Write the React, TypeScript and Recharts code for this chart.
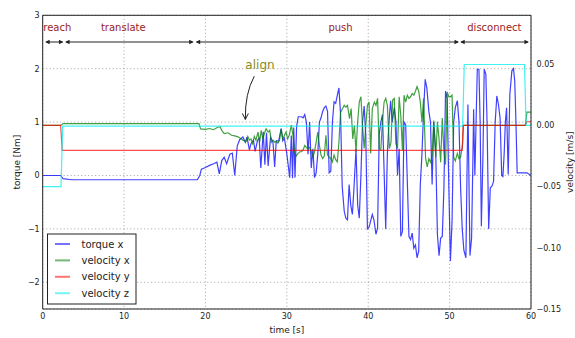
import React from 'react';
import {
  ComposedChart,
  Line,
  XAxis,
  YAxis,
  CartesianGrid,
  ReferenceLine,
  ReferenceDot,
  Customized,
} from 'recharts';

// ---------- data (time [s], value) ----------
const torqueX: [number, number][] = [
  [0, 0], [2.2, 0], [2.5, -0.06], [3.5, -0.08], [19.0, -0.08], [19.3, 0.0], [19.5, 0.12], [20.0, 0.15],
  [20.5, 0.19], [21.0, 0.22], [21.4, 0.25], [21.7, 0.03], [22.0, 0.28], [22.3, 0.34], [22.6, 0.22],
  [23.0, 0.4], [23.3, 0.42], [23.6, 0.0], [23.9, 0.55], [24.2, 0.67], [24.6, 0.72], [24.9, 0.62],
  [25.1, 0.72], [25.4, 0.48], [25.6, 0.6], [25.9, 0.66], [26.1, 0.45], [26.4, 0.66], [26.6, 0.7],
  [26.8, 0.14], [27.1, 0.82], [27.3, 0.2], [27.5, 0.8], [27.7, 0.18], [28.0, 0.72], [28.3, 0.62],
  [28.5, 0.16], [28.7, 0.65], [29.0, 0.65], [29.3, 0.88], [29.5, 0.65], [29.7, 0.7], [30.0, 0.4],
  [30.2, 0.15], [30.35, -0.04], [30.55, 0.75], [30.7, -0.05], [30.85, 0.9], [31.0, -0.04], [31.2, 0.92],
  [31.4, 1.1], [31.8, 1.1], [32.0, 1.08], [32.2, 1.14], [32.4, 1.0], [32.6, 0.4], [32.8, 1.0],
  [33.0, 0.14], [33.2, 0.5], [33.4, -0.04], [33.6, 0.05], [33.8, 0.4], [34.0, 1.0], [34.2, 1.08],
  [34.4, 1.2], [34.6, 1.27], [34.8, 1.3], [35.0, 1.2], [35.2, 0.05], [35.4, 0.08], [35.6, 1.0],
  [35.8, 1.38], [36.0, 1.35], [36.2, 1.5], [36.4, 1.64], [36.6, 1.15], [36.8, -0.2], [37.05, -0.67],
  [37.25, -0.8], [37.45, -0.83], [37.65, -0.17], [37.85, -0.55], [38.05, -0.73], [38.25, -0.23],
  [38.5, 0.5], [38.7, -0.55], [38.9, -0.8], [39.1, 0.0], [39.3, 1.0], [39.5, 1.3], [39.7, 0.75],
  [39.9, -1.0], [40.1, -0.97], [40.3, -0.85], [40.5, -0.73], [40.7, -0.83], [40.95, -1.1], [41.15, -0.98],
  [41.35, 0.77], [41.55, 1.0], [41.75, 1.14], [41.95, 0.08], [42.15, -1.0], [42.35, 0.4], [42.55, 1.0],
  [42.75, 1.4], [42.95, 1.0], [43.2, 1.27], [43.4, 1.0], [43.6, 0.0], [43.8, 0.5], [44.0, -1.14],
  [44.2, -1.05], [44.4, 1.0], [44.6, 0.95], [44.8, -0.1], [45.0, -1.14], [45.2, -1.2], [45.4, -1.08],
  [45.6, -1.36], [45.8, -1.3], [46.0, -1.54], [46.2, -1.42], [46.4, -0.17], [46.6, 0.4], [46.8, 1.2],
  [47.0, 1.8], [47.2, 1.64], [47.45, 1.2], [47.65, 1.0], [47.85, -0.17], [48.05, 1.0], [48.3, 0.4],
  [48.5, -1.1], [48.7, -1.5], [48.9, -1.17], [49.1, -1.14], [49.3, -0.23], [49.5, 1.58], [49.7, 1.45],
  [49.9, -0.2], [50.1, -1.6], [50.3, -0.85], [50.5, 1.0], [50.7, 1.27], [50.95, 1.4], [51.15, 1.0],
  [51.35, -0.23], [51.55, -1.0], [51.75, -1.4], [52.0, -1.54], [52.25, 1.33], [52.5, -1.5], [52.7, -1.17],
  [52.85, 0.2], [52.95, 1.24], [53.1, 0.0], [53.25, 1.0], [53.4, 1.99], [53.6, 1.99], [53.75, 1.0],
  [53.9, -0.95], [54.1, 0.4], [54.25, 1.99], [54.45, 1.9], [54.6, 1.0], [54.8, -1.0], [55.0, -0.23],
  [55.2, -0.2], [55.4, -0.11], [55.6, 1.0], [55.8, 1.49], [56.0, 1.33], [56.2, 1.08], [56.4, 0.0],
  [56.55, -0.02], [56.7, 0.4], [56.85, 1.0], [57.0, 1.27], [57.2, 0.02], [57.4, 1.52], [57.65, 1.96],
  [57.85, 2.0], [58.0, 1.77], [58.15, 1.0], [58.3, 0.05], [59.5, 0.05], [59.9, 0.01], [60, 0.0],
];

const velocityX: [number, number][] = [
  [0, 0.0], [2.2, 0.0], [2.5, 0.0015], [19.2, 0.0015], [19.4, -0.0028], [20.0, -0.0032], [20.5, -0.0025],
  [21.0, -0.0035], [21.5, -0.0015], [21.8, -0.001], [22.0, -0.004], [22.3, -0.0067], [22.8, -0.006],
  [23.2, -0.008], [23.6, -0.0085], [24.0, -0.0093], [24.4, -0.011], [24.7, -0.0124], [25.0, -0.013],
  [25.2, -0.009], [25.4, -0.012], [25.6, -0.011], [25.8, -0.015], [26.0, -0.009], [26.2, -0.012],
  [26.45, -0.0054], [26.65, -0.0137], [26.85, -0.0041], [27.05, -0.011], [27.3, -0.0054], [27.45, -0.0028],
  [27.7, -0.0054], [27.9, -0.004], [28.1, -0.0137], [28.3, -0.012], [28.5, -0.0137], [28.7, -0.013],
  [28.9, -0.0145], [29.1, -0.012], [29.3, -0.0028], [29.5, -0.011], [29.7, -0.008], [29.9, -0.0054],
  [30.1, -0.011], [30.3, -0.008], [30.55, 0.0003], [30.75, -0.008], [30.95, -0.0215], [31.15, -0.025],
  [31.35, -0.023], [31.6, -0.0215], [31.8, -0.0215], [32.0, -0.02], [32.2, -0.0163], [32.4, -0.018],
  [32.6, -0.019], [32.8, -0.018], [33.0, -0.0215], [33.2, -0.0255], [33.4, -0.0215], [33.6, -0.0137],
  [33.8, -0.0054], [34.0, -0.0163], [34.2, -0.0242], [34.4, -0.027], [34.6, -0.025], [34.8, -0.008],
  [35.0, -0.0242], [35.2, -0.0259], [35.4, -0.027], [35.6, -0.0298], [35.8, -0.0242], [36.0, -0.028],
  [36.2, -0.0298], [36.4, -0.0137], [36.6, 0.0108], [36.85, 0.0138], [37.05, 0.0164], [37.25, 0.015],
  [37.45, 0.0164], [37.7, 0.0055], [37.9, 0.0138], [38.1, -0.011], [38.3, 0.0], [38.5, -0.0215],
  [38.7, 0.003], [38.9, 0.0191], [39.1, 0.0234], [39.3, 0.0], [39.5, -0.0189], [39.7, 0.0], [39.9, 0.0164],
  [40.1, 0.0191], [40.3, -0.0229], [40.5, 0.0138], [40.75, 0.0191], [40.95, 0.0164], [41.15, 0.0221],
  [41.35, -0.0189], [41.55, -0.02], [41.75, 0.004], [41.95, 0.0191], [42.15, 0.0221], [42.35, 0.0164],
  [42.6, -0.0189], [42.8, -0.0137], [43.0, 0.0208], [43.2, 0.0221], [43.4, -0.015], [43.6, -0.0189],
  [43.8, 0.0234], [44.0, 0.008], [44.2, -0.02], [44.4, 0.0247], [44.6, 0.0191], [44.8, 0.0247],
  [45.0, 0.0221], [45.2, 0.0234], [45.4, 0.026], [45.6, 0.0247], [45.8, 0.028], [46.0, 0.0317],
  [46.2, 0.028], [46.4, 0.0191], [46.6, 0.0029], [46.8, 0.0221], [47.05, -0.0272], [47.25, -0.0338],
  [47.45, -0.0272], [47.65, -0.03], [47.85, -0.025], [48.05, 0.004], [48.3, -0.026], [48.5, 0.003],
  [48.7, -0.011], [48.9, -0.03], [49.1, 0.006], [49.3, -0.0215], [49.5, -0.032], [49.7, 0.0274],
  [49.9, 0.0234], [50.1, 0.0234], [50.3, 0.0247], [50.5, -0.026], [50.7, -0.029], [50.95, -0.0229],
  [51.15, -0.0272], [51.35, -0.026], [51.6, -0.015], [51.7, 0.0], [59.3, 0.0], [59.5, 0.0108], [60, 0.0108],
];

const velocityY: [number, number][] = [
  [0, 0.0], [2.2, 0.0], [2.4, -0.0204], [51.55, -0.0204], [51.65, 0.0], [59.3, 0.0], [59.5, 0.003], [60, 0.003],
];

const velocityZ: [number, number][] = [
  [0, -0.05], [2.25, -0.05], [2.45, -0.0006], [51.6, -0.0006], [51.8, 0.0498], [59.2, 0.0498], [59.4, 0.0], [60, 0.0],
];

const xTicks = [0, 10, 20, 30, 40, 50, 60];
const torqueTicks = [-2, -1, 0, 1, 2, 3];
const velocityTicks = [-0.15, -0.1, -0.05, 0, 0.05];

const phaseNames = ['reach', 'translate', 'push', 'disconnect'];
const phaseSpans: [number, number][] = [[0.3, 2.55], [2.75, 18.55], [18.8, 51.15], [51.3, 59.75]];
const phaseLabelT = [1.8, 9.9, 36.6, 55.5];
const phaseArrowLevel = 2.5;
const phaseLabelLevel = 2.78;

const alignText = 'align';
const alignTextPos = { t: 26.7, v: 2.06 };
const alignArrow = { fromT: 26.0, fromV: 1.86, toT: 24.9, toV: 1.05 };

const seriesMeta = [
  { name: 'torque x', color: '#0000ff' },
  { name: 'velocity x', color: '#008000' },
  { name: 'velocity y', color: '#ff0000' },
  { name: 'velocity z', color: '#00eeee' },
];

const toRows = (arr: [number, number][]) => arr.map(([t, v]) => ({ t, v }));

const FONT = 'DejaVu Sans, Liberation Sans, sans-serif';
const minus = (s: string) => s.replace('-', '\u2212');

const PhaseArrow = (props: any) => {
  const { x1, y1, x2, y2 } = props;
  const h = 4.5;
  const w = 2.3;
  return (
    <g>
      <line x1={x1 + 1} y1={y1} x2={x2 - 1} y2={y2} stroke="#222" strokeWidth={1} />
      <polygon points={`${x1},${y1} ${x1 + h},${y1 - w} ${x1 + h},${y1 + w}`} fill="#222" />
      <polygon points={`${x2},${y2} ${x2 - h},${y2 - w} ${x2 - h},${y2 + w}`} fill="#222" />
    </g>
  );
};

const CurvedArrow = (props: any) => {
  const { x1, y1, x2, y2 } = props;
  // x1,y1 = arrow start (near text); x2,y2 = tip
  const cx = x2 - 0.5;
  const cy = y1 + 0.4 * (y2 - y1);
  return (
    <g>
      <path d={`M ${x1} ${y1} Q ${cx} ${cy} ${x2} ${y2}`} fill="none" stroke="#222" strokeWidth={1} />
      <path d={`M ${x2 - 3} ${y2 - 6} L ${x2} ${y2} L ${x2 + 3} ${y2 - 6}`} fill="none" stroke="#222" strokeWidth={1} />
    </g>
  );
};

const LegendBox = () => {
  const x = 47.5;
  const y = 234;
  const rowY0 = 244;
  const step = 16.4;
  return (
    <g>
      <rect x={x} y={y} width={88.5} height={70} fill="#ffffff" stroke="#222" strokeWidth={1} />
      {seriesMeta.map((s, i) => (
        <g key={s.name}>
          <line x1={55} x2={70} y1={rowY0 + i * step} y2={rowY0 + i * step} stroke={s.color} strokeOpacity={0.55} strokeWidth={2} />
          <text x={81.5} y={rowY0 + i * step} dominantBaseline="central" fontSize={10} fontFamily={FONT} fill="#222">
            {s.name}
          </text>
        </g>
      ))}
    </g>
  );
};

export default function App() {
  return (
    <div style={{ position: 'absolute', left: 0, top: 0, background: '#fff' }}>
      <ComposedChart width={575} height={338} margin={{ top: 15.3, right: 0, bottom: 0, left: 7.7 }}>
        <CartesianGrid stroke="#8a8a8a" strokeDasharray="1 2.5" strokeWidth={0.8} />
        <XAxis
          dataKey="t"
          type="number"
          domain={[0, 60]}
          ticks={xTicks}
          allowDataOverflow
          height={29}
          tickLine={false}
          tickSize={4}
          tickMargin={0}
          axisLine={{ stroke: '#222', strokeWidth: 1 }}
          tick={{ fontSize: 8, fontFamily: FONT, fill: '#222' }}
          label={{
            content: (p: any) => {
              const vb = p.viewBox || { x: 43, y: 309, width: 488, height: 29 };
              return (
                <text x={vb.x + vb.width / 2} y={vb.y + 21} textAnchor="middle" dominantBaseline="central" fontSize={9} fontFamily={FONT} fill="#222">
                  time [s]
                </text>
              );
            },
          }}
        />
        <YAxis
          type="number"
          domain={[-2.5, 3]}
          ticks={torqueTicks}
          allowDataOverflow
          width={35}
          tickLine={false}
          tickSize={3}
          tickMargin={0}
          axisLine={{ stroke: '#222', strokeWidth: 1 }}
          tick={{ fontSize: 8, fontFamily: FONT, fill: '#222' }}
          tickFormatter={(v: number) => minus(String(v))}
          label={{
            content: (p: any) => {
              const vb = p.viewBox || { x: 7.7, y: 15.3, width: 35, height: 294 };
              const cx = vb.x + 9;
              const cy = vb.y + vb.height / 2;
              return (
                <text x={cx} y={cy} transform={`rotate(-90 ${cx} ${cy})`} textAnchor="middle" dominantBaseline="central" fontSize={9} fontFamily={FONT} fill="#222">
                  torque [Nm]
                </text>
              );
            },
          }}
        />
        <YAxis
          yAxisId="right"
          orientation="right"
          type="number"
          domain={[-0.15, 0.09]}
          ticks={velocityTicks}
          allowDataOverflow
          width={44}
          tickLine={false}
          tickSize={4}
          tickMargin={1.5}
          axisLine={{ stroke: '#222', strokeWidth: 1 }}
          tick={{ fontSize: 8, fontFamily: FONT, fill: '#222' }}
          tickFormatter={(v: number) => minus(v.toFixed(2))}
          label={{
            content: (p: any) => {
              const vb = p.viewBox || { x: 531, y: 15.3, width: 44, height: 294 };
              const cx = vb.x + 39;
              const cy = vb.y + vb.height / 2;
              return (
                <text x={cx} y={cy} transform={`rotate(-90 ${cx} ${cy})`} textAnchor="middle" dominantBaseline="central" fontSize={9} fontFamily={FONT} fill="#222">
                  velocity [m/s]
                </text>
              );
            },
          }}
        />
        <ReferenceLine y={3} stroke="#222" strokeWidth={1} ifOverflow="extendDomain" />

        <Line data={toRows(torqueX)} dataKey="v" type="linear" dot={false} stroke={seriesMeta[0].color} strokeOpacity={0.75} strokeWidth={1.2} isAnimationActive={false} />
        <Line data={toRows(velocityX)} yAxisId="right" dataKey="v" type="linear" dot={false} stroke={seriesMeta[1].color} strokeOpacity={0.75} strokeWidth={1.2} isAnimationActive={false} />
        <Line data={toRows(velocityY)} yAxisId="right" dataKey="v" type="linear" dot={false} stroke={seriesMeta[2].color} strokeOpacity={0.7} strokeWidth={1.2} isAnimationActive={false} />
        <Line data={toRows(velocityZ)} yAxisId="right" dataKey="v" type="linear" dot={false} stroke={seriesMeta[3].color} strokeOpacity={0.75} strokeWidth={1.2} isAnimationActive={false} />

        {phaseSpans.map(([a, b], i) => (
          <ReferenceLine
            key={'pa' + i}
            segment={[{ x: a, y: phaseArrowLevel }, { x: b, y: phaseArrowLevel }]}
            shape={PhaseArrow}
            ifOverflow="visible"
          />
        ))}
        {phaseNames.map((n, i) => (
          <ReferenceDot
            key={'pl' + i}
            x={phaseLabelT[i]}
            y={phaseLabelLevel}
            r={0}
            ifOverflow="visible"
            shape={(p: any) => (
              <text x={p.cx} y={p.cy} textAnchor="middle" dominantBaseline="central" fontSize={10} fontFamily={FONT} fill="#9a1c1c">
                {n}
              </text>
            )}
          />
        ))}
        <ReferenceLine
          segment={[{ x: alignArrow.fromT, y: alignArrow.fromV }, { x: alignArrow.toT, y: alignArrow.toV }]}
          shape={CurvedArrow}
          ifOverflow="visible"
        />
        <ReferenceDot
          x={alignTextPos.t}
          y={alignTextPos.v}
          r={0}
          ifOverflow="visible"
          shape={(p: any) => (
            <text x={p.cx} y={p.cy} textAnchor="middle" dominantBaseline="central" fontSize={12} fontFamily={FONT} fill="#8a8a1e">
              {alignText}
            </text>
          )}
        />
        <Customized component={<LegendBox />} />
      </ComposedChart>
    </div>
  );
}
